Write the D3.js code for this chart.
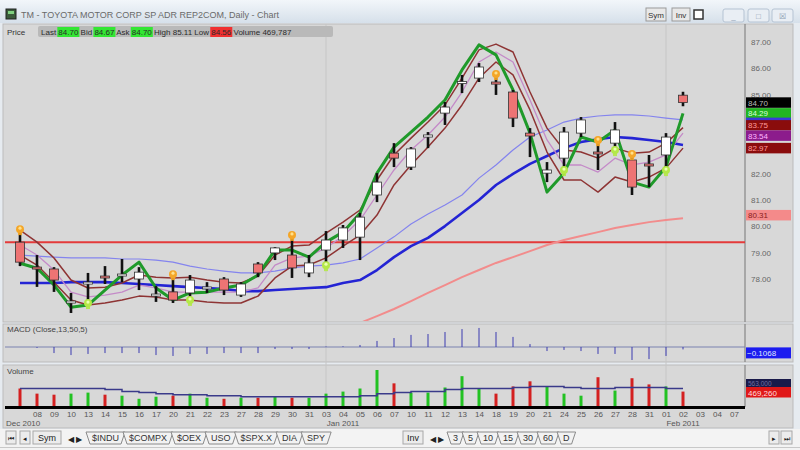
<!DOCTYPE html>
<html><head><meta charset="utf-8">
<script src="https://cdn.jsdelivr.net/npm/d3@7/dist/d3.min.js"></script>
<style>
body{margin:0;background:#ffffff;}
svg{display:block;font-family:"Liberation Sans",Arial,sans-serif;}
</style></head>
<body><svg id="c" width="800" height="450"></svg>
<script>
// ---------------- DATA ----------------
const dayLabels = ["07","08","09","10","13","14","15","16","17","20","21","22","23","27","28","29","30","31","03","04","05","06","07","10","11","12","13","14","18","19","20","21","24","25","26","27","28","31","01","02","03","04","07"];
const monthLabels = ["Dec 2010","Jan 2011","Feb 2011"];
const monthSlots = [0, 19, 39];
const monthStarts = [18, 38];

const open  = [79.40,78.45,78.38,77.09,77.81,78.09,78.13,78.00,77.37,77.51,77.47,77.64,78.00,77.39,78.57,78.99,78.91,78.23,79.10,79.48,79.59,81.19,82.78,82.25,83.39,84.30,85.44,85.63,85.48,85.10,83.54,82.02,82.59,83.54,82.82,83.16,82.52,82.37,82.71,84.98];
const high  = [79.78,78.91,78.45,77.47,78.23,78.49,78.76,78.45,77.73,78.07,78.15,77.88,78.07,77.88,78.64,79.21,79.56,78.91,79.82,80.05,80.51,82.02,83.16,83.01,83.58,84.72,85.75,86.20,85.67,85.18,83.73,82.44,83.77,84.15,83.16,83.96,82.63,82.71,83.54,85.11];
const low   = [78.49,77.70,77.51,76.71,77.20,77.81,77.88,77.58,77.13,77.09,77.32,77.47,77.39,77.32,78.07,78.72,78.04,78.07,78.64,79.18,78.72,80.92,82.25,82.14,82.97,83.85,85.06,85.48,84.99,83.77,82.63,81.68,82.25,83.39,82.14,83.01,81.19,81.49,82.25,84.56];
const close = [78.64,78.38,77.96,77.16,77.88,78.06,78.17,78.26,77.41,77.20,77.96,77.68,77.58,77.81,78.23,79.18,78.42,78.61,79.48,79.94,80.35,81.68,82.59,82.94,83.47,84.53,85.48,86.05,85.40,84.11,83.43,82.14,83.58,84.04,82.75,83.66,81.49,82.29,83.39,84.70];

const fastLine  = [78.60,78.41,77.77,76.93,77.01,77.58,78.15,78.64,77.66,77.20,77.47,77.50,77.66,77.77,78.15,79.10,79.10,78.83,79.40,79.78,80.50,82.02,83.01,83.58,84.15,84.80,85.94,86.89,86.51,85.18,83.54,81.30,82.02,83.39,83.20,83.66,81.68,81.49,82.25,84.29];
const bandUpper = [79.86,79.40,78.80,77.96,77.66,77.69,77.85,78.15,78.07,78.04,78.07,77.96,77.88,77.85,78.11,78.91,79.25,79.29,79.74,80.16,80.62,81.76,82.71,83.35,83.96,84.61,85.63,86.70,86.92,86.62,85.10,83.73,82.90,82.82,82.59,82.97,82.78,82.82,83.16,83.75];
const bandMid   = [79.29,78.91,78.34,77.50,77.32,77.39,77.50,77.77,77.66,77.50,77.50,77.50,77.50,77.50,77.66,78.53,78.80,78.87,79.18,79.63,80.24,81.19,82.14,82.90,83.47,84.15,85.10,86.24,86.62,86.24,84.80,83.28,82.33,82.33,82.06,82.59,82.33,82.44,82.71,83.54];
const bandLower = [78.91,78.53,77.88,77.20,77.01,77.09,77.20,77.35,77.32,77.20,77.20,77.13,77.09,77.09,77.35,78.04,78.49,78.53,78.80,79.25,79.67,80.43,81.57,82.33,83.01,83.73,84.61,85.63,86.24,85.75,84.42,82.82,81.76,81.76,81.30,81.87,81.68,81.87,82.21,82.97];
const maLight   = [78.91,78.87,78.83,78.80,78.80,78.80,78.76,78.76,78.72,78.64,78.49,78.38,78.30,78.23,78.23,78.30,78.42,78.49,78.53,78.61,78.76,79.18,79.60,80.09,80.47,80.81,81.19,81.83,82.33,82.90,83.39,83.66,83.96,84.11,84.19,84.23,84.23,84.19,84.11,84.04];
const maDark    = [77.85,77.85,77.85,77.88,77.88,77.88,77.85,77.81,77.77,77.73,77.69,77.66,77.62,77.54,77.54,77.58,77.62,77.66,77.69,77.85,77.96,78.34,78.83,79.25,79.56,80.01,80.51,81.00,81.57,81.99,82.37,82.67,82.97,83.20,83.31,83.39,83.35,83.28,83.20,83.09];
const maLong    = [null,null,null,null,null,null,null,null,null,null,null,null,null,null,null,null,null,null,null,null,76.33,76.59,76.86,77.16,77.47,77.77,78.07,78.34,78.61,78.83,79.06,79.29,79.48,79.63,79.78,79.94,80.05,80.16,80.24,80.31];
const levelLine = 79.40;

const sellSignals = [0, 9, 16, 28, 34, 36];
const buySignals  = [4, 10, 18, 32, 35, 38];

const macdHist = [0,-0.04,-0.27,-0.36,-0.31,-0.27,-0.27,-0.27,-0.36,-0.40,-0.31,-0.31,-0.27,-0.27,-0.27,-0.09,-0.09,-0.09,0.02,0.03,0.09,0.27,0.40,0.54,0.58,0.67,0.80,0.85,0.67,0.45,0.13,-0.18,-0.13,-0.18,-0.31,-0.31,-0.58,-0.54,-0.40,-0.1068];

const volume   = [563,407,375,407,438,375,344,250,313,344,407,282,250,282,282,313,282,282,407,469,563,1126,720,438,438,594,939,563,407,626,782,626,407,344,907,500,876,688,626,469.26];
const volumeMA = [563,563,563,563,563,532,469,438,407,375,375,344,344,313,313,313,313,313,313,313,344,407,438,469,469,532,563,563,563,594,626,626,594,563,563,594,594,594,563,563];

const priceTicks = [78,79,80,81,82,85,86,87];
const quote = {last:"84.70", bid:"84.67", ask:"84.70", high:"85.11", low:"84.56", volume:"469,787"};
const symTabs = ["$INDU","$COMPX","$OEX","USO","$SPX.X","DIA","SPY"];
const intervalTabs = ["3","5","10","15","30","60","D"];
const title = "TM - TOYOTA MOTOR CORP SP ADR REP2COM, Daily - Chart";

// ---------------- LAYOUT ----------------
const svg = d3.select("#c");
const W = 800, H = 450;
const plotL = 5, plotR = 745;
const x = d3.scaleLinear().domain([0, dayLabels.length - 1]).range([20, 20 + 17 * (dayLabels.length - 1)]);
const y = d3.scaleLinear().domain([78, 87]).range([279, 42]);
const yM = d3.scaleLinear().domain([-1, 1]).range([369.4, 324.6]);
const yV = d3.scaleLinear().domain([0, 1300]).range([407, 364.3]);
const N = close.length;
const idx = d3.range(N);

// window chrome
svg.append("rect").attr("width", W).attr("height", H).attr("fill", "#e6ebf0");
const tg = svg.append("defs").append("linearGradient").attr("id","tb").attr("x1",0).attr("y1",0).attr("x2",0).attr("y2",1);
tg.append("stop").attr("offset","0").attr("stop-color","#f2f6fa");
tg.append("stop").attr("offset","1").attr("stop-color","#d6e0ea");
svg.append("rect").attr("x",0).attr("y",0).attr("width",W).attr("height",23).attr("fill","url(#tb)");
svg.append("rect").attr("x",6).attr("y",9).attr("width",10).attr("height",10).attr("fill","#3a5a3a").attr("stroke","#222");
svg.append("rect").attr("x",8).attr("y",11).attr("width",6).attr("height",3).attr("fill","#7fd07f");
svg.append("text").attr("x",21).attr("y",18).attr("font-size",9).attr("fill","#6a6a6a").text(title);
[["Sym",646,20],["Inv",672,18]].forEach(([t,bx,bw])=>{
  svg.append("rect").attr("x",bx).attr("y",8).attr("width",bw).attr("height",13).attr("fill","#e8e8e8").attr("stroke","#9a9a9a");
  svg.append("text").attr("x",bx+bw/2).attr("y",18).attr("text-anchor","middle").attr("font-size",8).attr("fill","#333").text(t);
});
svg.append("rect").attr("x",694).attr("y",10).attr("width",9).attr("height",9).attr("fill","#fff").attr("stroke","#333").attr("stroke-width",1.5);
[723,748,772].forEach((bx,k)=>{
  svg.append("rect").attr("x",bx).attr("y",9).attr("width",21).attr("height",13).attr("rx",2).attr("fill","#e9eef4").attr("stroke","#b5c3d3");
  svg.append("text").attr("x",bx+10.5).attr("y",19).attr("text-anchor","middle").attr("font-size",8).attr("fill","#8a9ab0").text(["_","□","☒"][k]);
});

// panels
svg.append("rect").attr("x",3).attr("y",24).attr("width",790).attr("height",298).attr("fill","#d8d8d8").attr("stroke","#bbbbbb");
svg.append("rect").attr("x",3).attr("y",324).attr("width",790).attr("height",38).attr("fill","#d8d8d8").attr("stroke","#bbbbbb");
svg.append("rect").attr("x",3).attr("y",365).attr("width",790).attr("height",63).attr("fill","#d8d8d8").attr("stroke","#bbbbbb");
[[24,322],[324,362],[365,407]].forEach(([a,b])=>{
  svg.append("line").attr("x1",plotR).attr("x2",plotR).attr("y1",a).attr("y2",b).attr("stroke","#777").attr("stroke-width",1);
});
monthStarts.forEach(i=>{
  svg.append("line").attr("x1",x(i)).attr("x2",x(i)).attr("y1",24).attr("y2",407).attr("stroke","#c6c6c6").attr("stroke-width",1);
});

// info row
svg.append("text").attr("x",7).attr("y",35).attr("font-size",8).attr("fill","#333").text("Price");
svg.append("rect").attr("x",38).attr("y",26).attr("width",295).attr("height",11).attr("rx",2).attr("fill","#b9b9b9");
(function(){
  const items = [["Last ",null],[quote.last,"#33e633"],[" Bid ",null],[quote.bid,"#33e633"],[" Ask ",null],[quote.ask,"#33e633"],[" High "+quote.high+" Low ",null],[quote.low,"#f03030"],[" Volume "+quote.volume,null]];
  let cx = 41;
  items.forEach(([t,bg])=>{
    const tx = svg.append("text").attr("x",cx).attr("y",35).attr("font-size",8).attr("fill","#2a2a2a").attr("xml:space","preserve").text(t);
    const w = tx.node().getComputedTextLength();
    if(bg){ svg.insert("rect", () => tx.node()).attr("x",cx-1).attr("y",27).attr("width",w+2).attr("height",10).attr("fill",bg); }
    cx += w;
  });
})();

// price axis
const gAx = svg.append("g").attr("transform",`translate(${plotR+3},0)`)
  .call(d3.axisRight(y).tickValues(priceTicks).tickFormat(d3.format(".2f")).tickSize(0));
gAx.select(".domain").remove();
gAx.selectAll("text").attr("font-size",8).attr("fill","#666").attr("font-family","Liberation Sans, Arial");

// plot clip
svg.append("clipPath").attr("id","pc").append("rect").attr("x",plotL).attr("y",38).attr("width",plotR-plotL).attr("height",283);
const gP = svg.append("g").attr("clip-path","url(#pc)");

gP.append("line").attr("x1",plotL).attr("x2",plotR).attr("y1",y(levelLine)).attr("y2",y(levelLine)).attr("stroke","#e43a3a").attr("stroke-width",2);

const lineGen = arr => d3.line().defined(i=>arr[i]!=null).x(i=>x(i)).y(i=>y(arr[i]))(idx);
const series = [
  [maLong,"#f28c8c",2],
  [maLight,"#8484ee",1.2],
  [maDark,"#2424d4",2.6],
  [bandLower,"#8e3434",1.5],
  [bandMid,"#c48ac8",1.3],
  [bandUpper,"#8e3434",1.5],
  [fastLine,"#1f9a2a",3]
];
series.forEach(([arr,col,w])=>{
  gP.append("path").attr("d",lineGen(arr)).attr("fill","none").attr("stroke",col).attr("stroke-width",w).attr("stroke-linejoin","round");
});

// candles
const cg = gP.append("g");
idx.forEach(i=>{
  const up = close[i] >= open[i];
  cg.append("line").attr("x1",x(i)).attr("x2",x(i)).attr("y1",y(high[i])).attr("y2",y(low[i])).attr("stroke","#111").attr("stroke-width",2.6);
  const top = y(Math.max(open[i],close[i])), bot = y(Math.min(open[i],close[i]));
  const h = Math.max(2, bot-top);
  cg.append("rect").attr("x",x(i)-4.5).attr("y",(top+bot)/2-h/2).attr("width",9).attr("height",h)
    .attr("fill", up ? "#ffffff" : "#ee7474").attr("stroke", "#333").attr("stroke-width",0.8);
});

// signals
function bulb(g, cx, cy, col, light){
  g.append("rect").attr("x",cx-2).attr("y",cy+2).attr("width",4).attr("height",4).attr("fill",col).attr("opacity",0.9);
  g.append("circle").attr("cx",cx).attr("cy",cy).attr("r",4).attr("fill",col);
  g.append("circle").attr("cx",cx).attr("cy",cy-1).attr("r",1.6).attr("fill",light);
}
sellSignals.forEach(i=>bulb(gP, x(i), y(high[i])-3, "#f4a628", "#ffe08a"));
buySignals.forEach(i=>bulb(gP, x(i), y(low[i])+3, "#b4e848", "#eaffb0"));

// right price labels (overlap resolved by clustering)
function resolve(list, gap){
  list.sort((a,b)=>a.cy-b.cy);
  let cl = list.map(d=>({items:[d]}));
  const place = c => { const m = d3.mean(c.items, d=>d.cy); c.start = m - (c.items.length-1)*gap/2; };
  cl.forEach(place);
  let merged = true;
  while(merged){
    merged = false;
    for(let k=0;k<cl.length-1;k++){
      const a = cl[k], b = cl[k+1];
      if(a.start + a.items.length*gap > b.start){
        a.items = a.items.concat(b.items); place(a); cl.splice(k+1,1); merged = true; break;
      }
    }
  }
  cl.forEach(c=>c.items.forEach((d,j)=>d.py = c.start + j*gap));
  return list;
}
const fmt2 = d3.format(".2f");
function drawLabel(v, cy, bg, fg){
  svg.append("rect").attr("x",plotR+1).attr("y",cy-5.25).attr("width",45).attr("height",10.5).attr("fill",bg);
  svg.append("text").attr("x",plotR+3).attr("y",cy+3).attr("font-size",8).attr("fill",fg).text(v);
}
drawLabel(fmt2(maLong[N-1]), y(maLong[N-1]) - 3, "#f48a8a", "#8a2020");
const pl = resolve([
  {v:close[N-1], bg:"#000000", fg:"#bbbbbb", cy:y(close[N-1])},
  {v:fastLine[N-1], bg:"#22b522", fg:"#d8ffd8", cy:y(fastLine[N-1])},
  {v:bandUpper[N-1], bg:"#8a0c0c", fg:"#ff9a9a", cy:y(bandUpper[N-1])},
  {v:bandMid[N-1], bg:"#8c1c8c", fg:"#ffb4ff", cy:y(bandMid[N-1])},
  {v:bandLower[N-1], bg:"#8a0c0c", fg:"#ff9a9a", cy:y(bandLower[N-1])}
], 10.5);
pl.forEach(d=>drawLabel(fmt2(d.v), d.py, d.bg, d.fg));
// light-blue MA tag peeks out as a thin strip between the green and dark-red tags
const gIdx = pl.findIndex(d=>d.v===fastLine[N-1]);
svg.append("rect").attr("x",plotR+1).attr("y",pl[gIdx].py+4.25).attr("width",45).attr("height",2.5).attr("fill","#3a3ad8");

// ---------------- MACD ----------------
svg.append("text").attr("x",7).attr("y",332).attr("font-size",8).attr("fill","#444").text("MACD (Close,13,50,5)");
svg.append("line").attr("x1",plotL).attr("x2",plotR).attr("y1",yM(0)).attr("y2",yM(0)).attr("stroke","#7b82b0").attr("stroke-width",1.2);
idx.forEach(i=>{
  svg.append("line").attr("x1",x(i)).attr("x2",x(i)).attr("y1",yM(0)).attr("y2",yM(macdHist[i])).attr("stroke","#3a3ab0").attr("stroke-width",1);
});
svg.append("rect").attr("x",plotR+1).attr("y",yM(macdHist[N-1])-2).attr("width",45).attr("height",11).attr("fill","#1c1cf0");
svg.append("text").attr("x",plotR+2).attr("y",yM(macdHist[N-1])+6.5).attr("font-size",8).attr("fill","#dfe4ff").text(d3.format(".4f")(macdHist[N-1]));

// ---------------- VOLUME ----------------
svg.append("text").attr("x",7).attr("y",374).attr("font-size",8).attr("fill","#444").text("Volume");
idx.forEach(i=>{
  const up = close[i] >= open[i];
  svg.append("line").attr("x1",x(i)).attr("x2",x(i)).attr("y1",yV(0)).attr("y2",yV(volume[i]))
    .attr("stroke", up ? "#22c222" : "#d42020").attr("stroke-width",3);
});
svg.append("path").attr("d", d3.line().x(i=>x(i)).y(i=>yV(volumeMA[i])).curve(d3.curveStepAfter)(idx))
  .attr("fill","none").attr("stroke","#3a3a8a").attr("stroke-width",1.5);
const fmtV = v => d3.format(",")(Math.round(v*1000));
svg.append("rect").attr("x",plotR+1).attr("y",379).attr("width",45).attr("height",8).attr("fill","#1a1a4a");
svg.append("text").attr("x",plotR+3).attr("y",385.5).attr("font-size",6.5).attr("fill","#7070a0").text(fmtV(volumeMA[N-1]));
svg.append("rect").attr("x",plotR+1).attr("y",387).attr("width",45).attr("height",10.5).attr("fill","#e01818");
svg.append("text").attr("x",plotR+3).attr("y",395.5).attr("font-size",8).attr("fill","#ffdede").text(fmtV(volume[N-1]));

// ---------------- DATE AXIS ----------------
svg.append("line").attr("x1",plotL).attr("x2",plotR).attr("y1",407.5).attr("y2",407.5).attr("stroke","#000").attr("stroke-width",3);
const gX = svg.append("g").attr("transform","translate(0,409)")
  .call(d3.axisBottom(x).tickValues(d3.range(1, dayLabels.length)).tickFormat(i=>dayLabels[i]).tickSize(0).tickPadding(2));
gX.select(".domain").remove();
gX.selectAll("text").attr("font-size",8).attr("fill","#555").attr("font-family","Liberation Sans, Arial");
monthLabels.forEach((m,k)=>{
  svg.append("text").attr("x", k===0 ? 6 : x(monthSlots[k])).attr("y",426).attr("text-anchor", k===0 ? "start" : "middle")
    .attr("font-size",8).attr("fill","#555").text(m);
});

// ---------------- BOTTOM TOOLBAR ----------------
svg.append("rect").attr("x",0).attr("y",429).attr("width",W).attr("height",21).attr("fill","#f3f3f3");
svg.append("line").attr("x1",0).attr("x2",W).attr("y1",447.5).attr("y2",447.5).attr("stroke","#c8c8c8");
function btn(bx, bw, t, fs){
  svg.append("rect").attr("x",bx).attr("y",431).attr("width",bw).attr("height",13).attr("fill","#ececec").attr("stroke","#a8a8a8");
  svg.append("text").attr("x",bx+bw/2).attr("y",441).attr("text-anchor","middle").attr("font-size",fs||8).attr("fill","#222").text(t);
}
btn(6,10,"⏮",7); btn(20,10,"◂",7); btn(33,28,"Sym",9);
svg.append("text").attr("x",68).attr("y",442).attr("font-size",8).attr("fill","#222").text("◀ ▶");
function tabs(x0, list, fs){
  let cx = x0;
  list.forEach(t=>{
    const tx = svg.append("text").attr("x",cx+6).attr("y",441).attr("font-size",fs).attr("fill","#333").text(t);
    const w = tx.node().getComputedTextLength() + 12;
    svg.insert("path", () => tx.node()).attr("d",`M${cx},432 L${cx+w},432 L${cx+w-4},444 L${cx+4},444 Z`).attr("fill","#f2f2f2").attr("stroke","#8a8a8a");
    cx += w - 2;
  });
}
tabs(86, symTabs, 9);
btn(403,20,"Inv",9);
svg.append("text").attr("x",430).attr("y",442).attr("font-size",8).attr("fill","#222").text("◀ ▶");
tabs(447, intervalTabs, 9);
btn(769,10,"▸",7); btn(781,11,"⏭",7);
</script>
</body></html>
